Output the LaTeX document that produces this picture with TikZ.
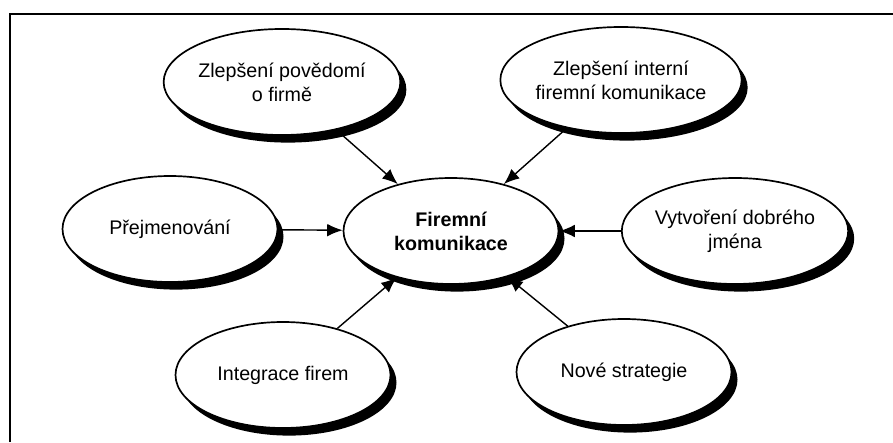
\documentclass[tikz,border=0pt]{standalone}
\usepackage{fontspec}
\setmainfont{Liberation Sans}
\usetikzlibrary{shapes.geometric,shadows,arrows.meta}

\tikzset{
  bubble/.style={ellipse, draw=black, line width=1.2pt, fill=white,
    minimum width=5.375cm, minimum height=2.65cm, align=center, inner sep=0pt,
    font=\fontsize{14pt}{17pt}\selectfont,
    drop shadow={opacity=1, fill=black, shadow xshift=0.15cm, shadow yshift=-0.19cm}},
  pointer/.style={line width=1pt, -{Latex[length=11pt,width=9pt]}}
}

\begin{document}
\begin{tikzpicture}
\useasboundingbox (0,0) rectangle (22.325,11.05);

\draw[line width=1pt] (0.25,0) -- (0.25,10.7) -- (22.325,10.7); %frame

\node[bubble,font=\bfseries\fontsize{14pt}{17pt}\selectfont] (firma) at (11.275,5.275) {Firemní\\komunikace}; %center

\node[bubble] (povedomi) at (7.05,9.0) {Zlepšení povědomí\\o firmě}; %top left
\node[bubble] (interni) at (15.525,9.05) {Zlepšení interní\\firemní komunikace}; %top right
\node[bubble] (prejmenovani) at (4.25,5.325) {Přejmenování}; %left
\node[bubble] (jmeno) at (18.375,5.275) {Vytvoření dobrého\\jména}; %right
\node[bubble] (integrace) at (7.075,1.675) {Integrace firem}; %bottom left
\node[bubble] (strategie) at (15.6,1.75) {Nové strategie}; %bottom right

\draw[pointer] (povedomi) -- (firma);
\draw[pointer] (interni) -- (firma);
\draw[pointer] (prejmenovani) -- (firma);
\draw[pointer] (jmeno) -- (firma);
\draw[pointer] (integrace) -- (firma);
\draw[pointer] (strategie) -- (firma);

\end{tikzpicture}
\end{document}
